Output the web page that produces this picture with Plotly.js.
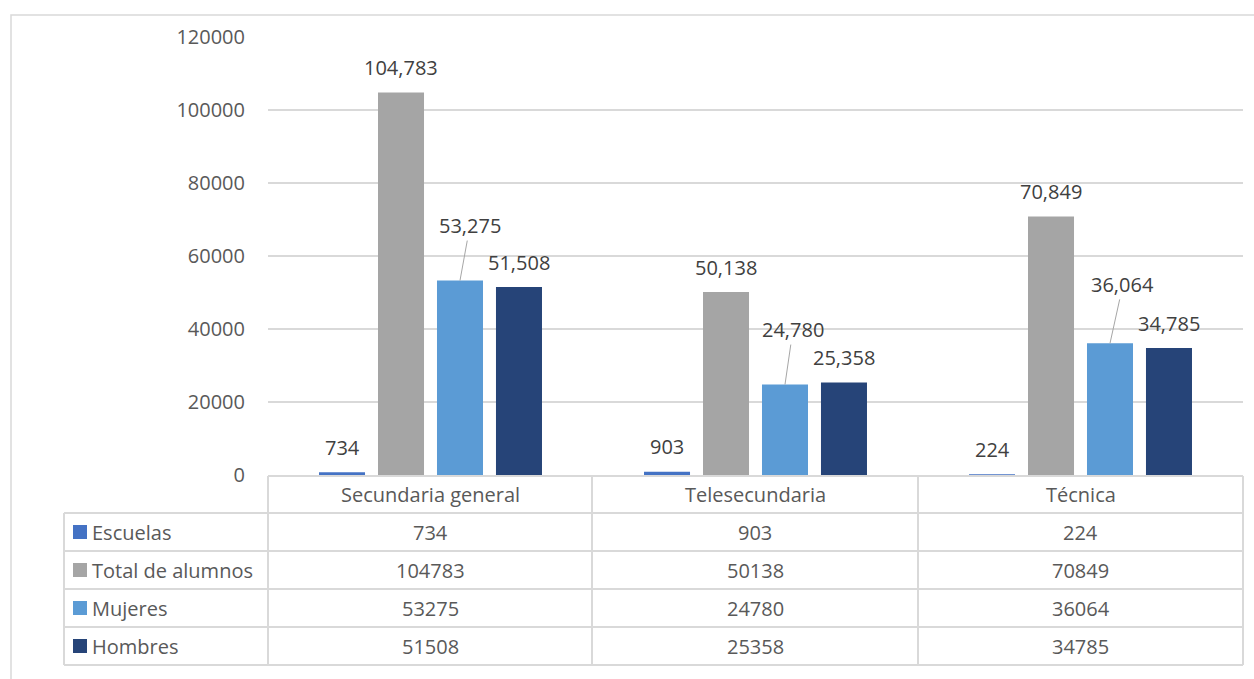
<!DOCTYPE html>
<html><head><meta charset="utf-8">
<script src="https://cdn.plot.ly/plotly-3.0.1.min.js"></script>
<style>html,body{margin:0;padding:0;background:#fff;overflow:hidden}#chart{width:1254px;height:679px;}</style>
</head><body><div id="chart"></div>
<script>
// ---- data ----
const categories = ["Secundaria general", "Telesecundaria", "Técnica"];
const seriesNames = ["Escuelas", "Total de alumnos", "Mujeres", "Hombres"];
const escuelas = [734, 903, 224];
const totalAlumnos = [104783, 50138, 70849];
const mujeres = [53275, 24780, 36064];
const hombres = [51508, 25358, 34785];
const yTicks = [0, 20000, 40000, 60000, 80000, 100000, 120000];

// ---- style ----
const colors = ["#4472c4", "#a5a5a5", "#5b9bd5", "#264478"];
const series = [escuelas, totalAlumnos, mujeres, hombres];
const FONT = "Open Sans, Liberation Sans, sans-serif";
const W = 1254, H = 679;
const L = 268, R = 1243, T = 37, B = 475;
const pw = R - L, ph = B - T;
const px2x = p => (p - L) / pw;
const py2y = p => (B - p) / ph;
const bargap = 0.274;
const slot = (pw / categories.length) * (1 - bargap) / series.length;
const gridC = "#d9d9d9";
// leader-line label offsets (pixels) for the "Mujeres" series
const leader = [[10, -55], [8, -55], [13, -59]];

const fmt = v => v.toLocaleString("en-US");

const traces = series.map((vals, i) => ({
  type: "bar",
  name: seriesNames[i],
  x: categories,
  y: vals,
  marker: { color: colors[i] },
  hoverinfo: "skip"
}));

const annotations = [];
series.forEach((vals, i) => {
  vals.forEach((v, j) => {
    const base = {
      xref: "x", yref: "y", x: categories[j], y: v,
      xshift: (i - 1.5) * slot,
      text: fmt(v),
      font: { family: FONT, size: 20, color: "#404040" }
    };
    if (i === 2) {
      Object.assign(base, {
        showarrow: true, arrowhead: 0, arrowwidth: 1, arrowcolor: "#a6a6a6",
        ax: leader[j][0], ay: leader[j][1], standoff: 0, startstandoff: 0
      });
    } else {
      Object.assign(base, { showarrow: false, yanchor: "middle", yshift: 25 });
    }
    annotations.push(base);
  });
});

// data table
const colEdges = [268, 592, 918, 1243];
const rowEdges = [476, 513, 551, 589, 627, 665];
const legLeft = 64;
const shapes = [];
const line = (x0, y0, x1, y1, w) => shapes.push({
  type: "line", xref: "paper", yref: "paper",
  x0: px2x(x0), x1: px2x(x1), y0: py2y(y0), y1: py2y(y1),
  line: { color: gridC, width: w || 2 }
});
// outer chart border
shapes.push({
  type: "rect", xref: "paper", yref: "paper",
  x0: px2x(11), x1: px2x(W + 20), y0: py2y(15), y1: py2y(H + 20),
  line: { color: gridC, width: 1.5 }, fillcolor: "rgba(0,0,0,0)"
});
line(colEdges[0], rowEdges[0], colEdges[3], rowEdges[0]);
for (let r = 1; r < rowEdges.length; r++) line(legLeft, rowEdges[r], colEdges[3], rowEdges[r]);
line(legLeft, rowEdges[1], legLeft, rowEdges[5]);
colEdges.forEach(c => line(c, rowEdges[0], c, rowEdges[5]));

const tfont = { family: FONT, size: 20, color: "#595959" };
categories.forEach((c, j) => {
  const cx = (colEdges[j] + colEdges[j + 1]) / 2;
  annotations.push({
    xref: "paper", yref: "paper", x: px2x(cx), y: py2y((rowEdges[0] + rowEdges[1]) / 2),
    text: c, showarrow: false, xanchor: "center", yanchor: "middle", font: tfont
  });
  series.forEach((vals, i) => {
    annotations.push({
      xref: "paper", yref: "paper", x: px2x(cx), y: py2y((rowEdges[i + 1] + rowEdges[i + 2]) / 2),
      text: String(vals[j]), showarrow: false, xanchor: "center", yanchor: "middle", font: tfont
    });
  });
});
seriesNames.forEach((n, i) => {
  const cy = (rowEdges[i + 1] + rowEdges[i + 2]) / 2;
  shapes.push({
    type: "rect", xref: "paper", yref: "paper",
    x0: px2x(73), x1: px2x(87), y0: py2y(cy - 7), y1: py2y(cy + 7),
    fillcolor: colors[i], line: { width: 0 }
  });
  annotations.push({
    xref: "paper", yref: "paper", x: px2x(90), y: py2y(cy),
    text: n, showarrow: false, xanchor: "left", yanchor: "middle", font: tfont
  });
});

const layout = {
  width: W, height: H,
  margin: { l: L, r: W - R, t: T, b: H - B, pad: 0 },
  paper_bgcolor: "#ffffff", plot_bgcolor: "#ffffff",
  barmode: "group", bargap: bargap, bargroupgap: 0.22,
  showlegend: false,
  xaxis: { type: "category", showticklabels: false, showgrid: false, zeroline: false, showline: false, ticks: "" },
  yaxis: {
    range: [0, 120000], tickvals: yTicks, tickformat: "d",
    showgrid: true, gridcolor: gridC, gridwidth: 1.5, zeroline: false, showline: false,
    ticks: "", ticklabelstandoff: 22,
    tickfont: { family: FONT, size: 20, color: "#595959" }
  },
  annotations: annotations,
  shapes: shapes
};

Plotly.newPlot("chart", traces, layout, { staticPlot: true, displayModeBar: false });
</script>
</body></html>
